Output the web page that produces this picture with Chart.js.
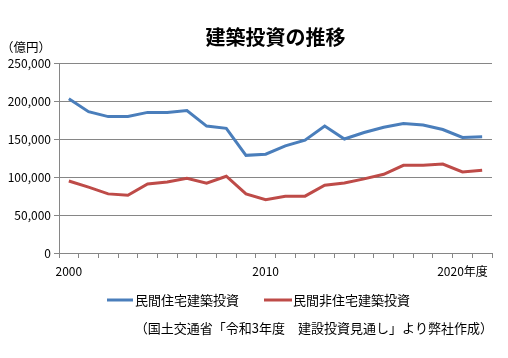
<!DOCTYPE html>
<html><head><meta charset="utf-8">
<style>html,body{margin:0;padding:0;background:#fff}#wrap{width:508px;height:358px;position:relative}</style>
<script src="https://cdn.jsdelivr.net/npm/chart.js@4.4.1/dist/chart.umd.min.js"></script>
</head><body><div id="wrap"><canvas id="c" width="508" height="358"></canvas></div>
<script>
const categories=[2000,2001,2002,2003,2004,2005,2006,2007,2008,2009,2010,2011,2012,2013,2014,2015,2016,2017,2018,2019,2020,2021];
const tickLabels=['2000','','','','','','','','','','2010','','','','','','','','','','2020年度',''];
const housing=[203000,186000,179500,179500,185000,185000,187500,167000,164000,128500,130000,141000,148500,167000,150000,158500,165500,170500,168500,162500,152000,153000];
const nonHousing=[94800,86600,77800,76000,90900,93500,98400,91800,101000,77800,70000,74800,74800,89200,92200,97500,103600,115400,115400,117000,106600,109000];
const seriesNames=['民間住宅建築投資','民間非住宅建築投資'];
const seriesColors=['#4A7EBB','#BE4B48'];
const yMin=0,yMax=250000,yStep=50000;
const titleText='建築投資の推移';
const unitText='（億円）';
const noteText='（国土交通省「令和3年度　建設投資見通し」より弊社作成）';
const FONT='"Noto Sans CJK JP", "Noto Sans", sans-serif';
const GRID='#868686';

const overlay={id:'overlay',afterDraw(chart){
  const ctx=chart.ctx,a=chart.chartArea;
  ctx.save();
  ctx.fillStyle='#000';
  ctx.textBaseline='middle';
  ctx.font='bold 20px '+FONT; ctx.textAlign='center';
  ctx.fillText(titleText,(a.left+a.right)/2,37);
  ctx.font='12.5px '+FONT; ctx.textAlign='left';
  ctx.fillText(unitText,1,47);
  // legend
  const items=[{x1:107,x2:133,tx:135},{x1:264,x2:292,tx:293}];
  chart.data.datasets.forEach((ds,i)=>{
    const it=items[i];
    ctx.strokeStyle=ds.borderColor; ctx.lineWidth=3; ctx.lineCap='butt';
    ctx.beginPath(); ctx.moveTo(it.x1,300); ctx.lineTo(it.x2,300); ctx.stroke();
    ctx.font='13px '+FONT; ctx.textAlign='left'; ctx.fillStyle='#000';
    ctx.fillText(ds.label,it.tx,300);
  });
  ctx.font='13px '+FONT; ctx.textAlign='right';
  ctx.fillText(noteText,493,328);
  ctx.restore();
}};

new Chart(document.getElementById('c'),{
  type:'line',
  data:{labels:categories,datasets:[
    {label:seriesNames[0],data:housing,borderColor:seriesColors[0],backgroundColor:seriesColors[0],borderWidth:3,pointRadius:0,tension:0},
    {label:seriesNames[1],data:nonHousing,borderColor:seriesColors[1],backgroundColor:seriesColors[1],borderWidth:3,pointRadius:0,tension:0}
  ]},
  options:{
    responsive:false,animation:false,devicePixelRatio:1,
    layout:{padding:{top:63,left:0,right:16,bottom:80}},
    plugins:{legend:{display:false},title:{display:false},tooltip:{enabled:false}},
    scales:{
      x:{type:'category',offset:true,
        grid:{offset:true,drawOnChartArea:false,drawTicks:true,tickLength:5,color:GRID},
        border:{display:true,color:GRID},
        ticks:{autoSkip:false,maxRotation:0,minRotation:0,padding:6,color:'#000',font:{family:FONT,size:12},
          callback:(v,i)=>tickLabels[i]},
        afterFit:s=>{s.height=25;}
      },
      y:{min:yMin,max:yMax,
        grid:{color:GRID,lineWidth:1,tickLength:5,drawTicks:true},
        border:{display:true,color:GRID},
        ticks:{stepSize:yStep,padding:3,color:'#000',font:{family:FONT,size:12},
          callback:v=>v.toLocaleString('en-US')},
        afterFit:s=>{s.width=59;}
      }
    }
  },
  plugins:[overlay]
});
</script></body></html>
